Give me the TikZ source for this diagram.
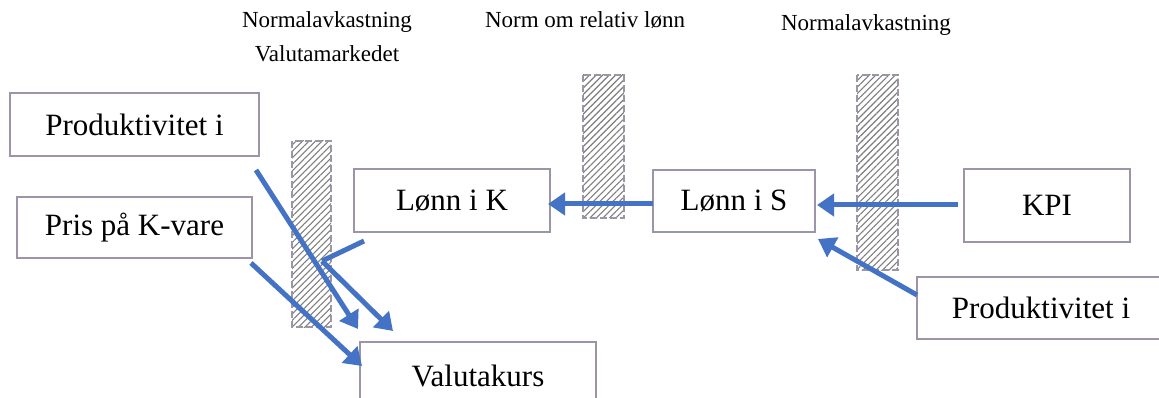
\documentclass[tikz,border=0pt]{standalone}
\usepackage{fontspec}
\setmainfont{Liberation Serif}
\usetikzlibrary{arrows.meta,patterns.meta}
\definecolor{boxline}{RGB}{158,148,168}
\definecolor{flow}{RGB}{68,114,196}
\definecolor{hatch}{RGB}{125,125,125}
\tikzset{
  box/.style={draw=boxline, line width=1.8pt, fill=white, inner sep=0pt,
    font=\fontsize{31}{36}\selectfont},
  barrier/.style={draw=boxline, line width=1.6pt, dash pattern=on 7pt off 3pt,
    pattern={Lines[angle=45,distance=4.6pt,line width=1.1pt]}, pattern color=hatch},
  toplabel/.style={anchor=base, inner sep=0pt, font=\fontsize{23}{27}\selectfont},
  flowarrow/.style={draw=flow, line width=5pt,
    -{Triangle[length=17pt,width=22pt]}},
  flowline/.style={draw=flow, line width=5pt}
}
\begin{document}
\begin{tikzpicture}[x=1pt,y=-1pt]
\useasboundingbox (0,0) rectangle (1159,398);
\clip (0,0) rectangle (1159,398);

% hatched barriers
\path[barrier] (292,141) rectangle (331,327);
\path[barrier] (583,75) rectangle (624,218);
\path[barrier] (857,75) rectangle (898,270);

% barrier labels
\node[toplabel] (lblA) at (327,28) {Normalavkastning};
\node[toplabel] (lblB) at (327,62) {Valutamarkedet};
\node[toplabel] (lblC) at (585,28) {Norm om relativ lønn};
\node[toplabel] (lblD) at (866,31) {Normalavkastning};

% boxes
\node[box, minimum width=249pt, minimum height=63pt] (prodK) at (134.5,124.5) {Produktivitet i};
\node[box, minimum width=235pt, minimum height=61pt] (prisK) at (134.5,227.5) {Pris på K-vare};
\node[box, minimum width=196pt, minimum height=63pt] (lonnK) at (452,200.5) {Lønn i K};
\node[box, minimum width=162pt, minimum height=62pt] (lonnS) at (734,201) {Lønn i S};
\node[box, minimum width=166pt, minimum height=73pt] (kpi) at (1047,205.5) {KPI};
\node[box, minimum width=248pt, minimum height=62pt] (prodS) at (1041,308) {Produktivitet i};
\node[box, minimum width=236pt, minimum height=68pt] (valuta) at (478,376) {Valutakurs};

% connector end points
\coordinate (sOut) at (653,204);
\coordinate (kIn) at (548,204);
\coordinate (kpiOut) at (958,205);
\coordinate (sInA) at (817,205);
\coordinate (prodSOut) at (917,295);
\coordinate (sInB) at (818,239);
\coordinate (prodKOut) at (256,170);
\coordinate (vInA) at (358,329);
\coordinate (prisOut) at (251,263);
\coordinate (vInB) at (362,366);
\coordinate (kOut) at (364,241);
\coordinate (kBend) at (322,261);
\coordinate (vInC) at (393,331);

% flows
\draw[flowarrow] (sOut) -- (kIn);
\draw[flowarrow] (kpiOut) -- (sInA);
\draw[flowarrow] (prodSOut) -- (sInB);
\draw[flowarrow] (prodKOut) -- (vInA);
\draw[flowarrow] (prisOut) -- (vInB);
\draw[flowline] (kOut) -- (kBend);
\draw[flowarrow] (kBend) -- (vInC);
\end{tikzpicture}
\end{document}
